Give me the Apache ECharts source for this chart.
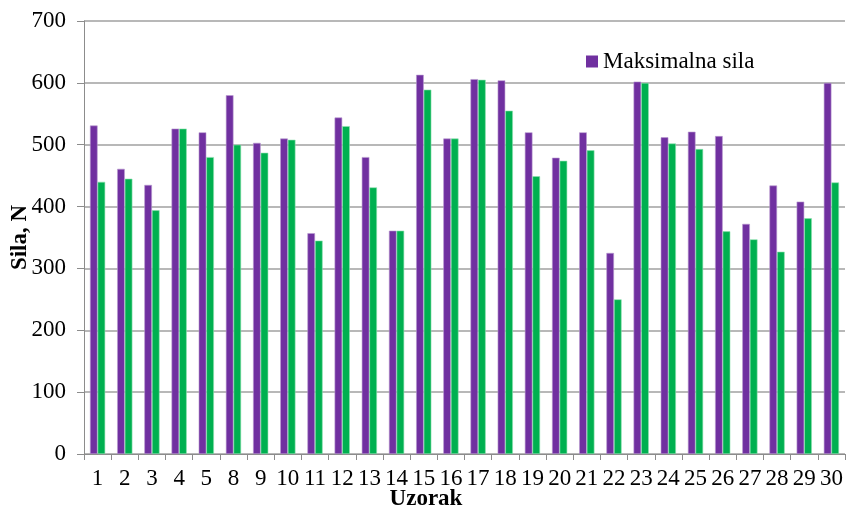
<!DOCTYPE html>
<html><head><meta charset="utf-8">
<script src="https://cdn.jsdelivr.net/npm/echarts@6/dist/echarts.min.js"></script>
<style>html,body{margin:0;padding:0;background:#fff}#c{width:848px;height:510px}</style>
</head><body><div id="c"></div>
<script>
const categories = ['1','2','3','4','5','8','9','10','11','12','13','14','15','16','17','18','19','20','21','22','23','24','25','26','27','28','29','30'];
const maxForce = [531,461,435,526,520,580,503,510,357,544,480,361,613,510,606,604,520,479,520,325,602,512,521,514,372,434,408,600];
const secondForce = [440,445,394,526,480,500,487,508,345,530,431,361,589,510,605,555,449,474,491,250,600,502,493,360,347,327,381,439];
const yTicks = [0,100,200,300,400,500,600,700];

const font = '"Liberation Serif","Times New Roman",serif';
const chart = echarts.init(document.getElementById('c'));
chart.setOption({
  animation: false,
  backgroundColor: '#fff',
  textStyle: {fontFamily: font},
  grid: {left: 84, right: 3, top: 21, bottom: 56, containLabel: false, outerBoundsMode: 'none'},
  legend: {
    data: ['Maksimalna sila'],
    left: 581, top: 45, itemWidth: 12, itemHeight: 12, itemGap: 6,
    textStyle: {fontFamily: font, fontSize: 23, color: '#000'},
    icon: 'rect',
    itemStyle: {borderWidth: 0}
  },
  xAxis: {
    type: 'category', data: categories,
    axisLine: {lineStyle: {color: '#8c8c8c', width: 1}},
    axisTick: {show: true, length: 6, lineStyle: {color: '#8c8c8c'}},
    axisLabel: {fontFamily: font, fontSize: 23, color: '#000', margin: 13, interval: 0}
  },
  yAxis: {
    type: 'value', min: yTicks[0], max: yTicks[yTicks.length-1], interval: 100,
    name: 'Sila, N', nameLocation: 'middle', nameGap: 52, nameRotate: 90, nameMoveOverlap: false,
    nameTextStyle: {fontFamily: font, fontSize: 23, fontWeight: 'bold', color: '#000'},
    axisLine: {show: true, lineStyle: {color: '#8c8c8c'}},
    axisTick: {show: true, length: 7, lineStyle: {color: '#8c8c8c'}},
    axisLabel: {fontFamily: font, fontSize: 23, color: '#000', margin: 18},
    splitLine: {lineStyle: {color: '#a0a0a0', width: 1.5}}
  },
  graphic: [{
    type: 'text', x: 426, y: 488,
    style: {text: 'Uzorak', font: 'bold 23px ' + font, fill: '#000', textAlign: 'center'}
  }],
  series: [
    {name: 'Maksimalna sila', type: 'bar', data: maxForce, barGap: '0%', barCategoryGap: '44%',
     itemStyle: {color: '#7030A0', borderColor: '#b89bd0', borderWidth: 0.6}},
    {name: 'Sila 2', type: 'bar', data: secondForce, barGap: '0%', barCategoryGap: '44%',
     itemStyle: {color: '#00B050', borderColor: '#8fe0b0', borderWidth: 0.6}}
  ]
});
</script></body></html>
